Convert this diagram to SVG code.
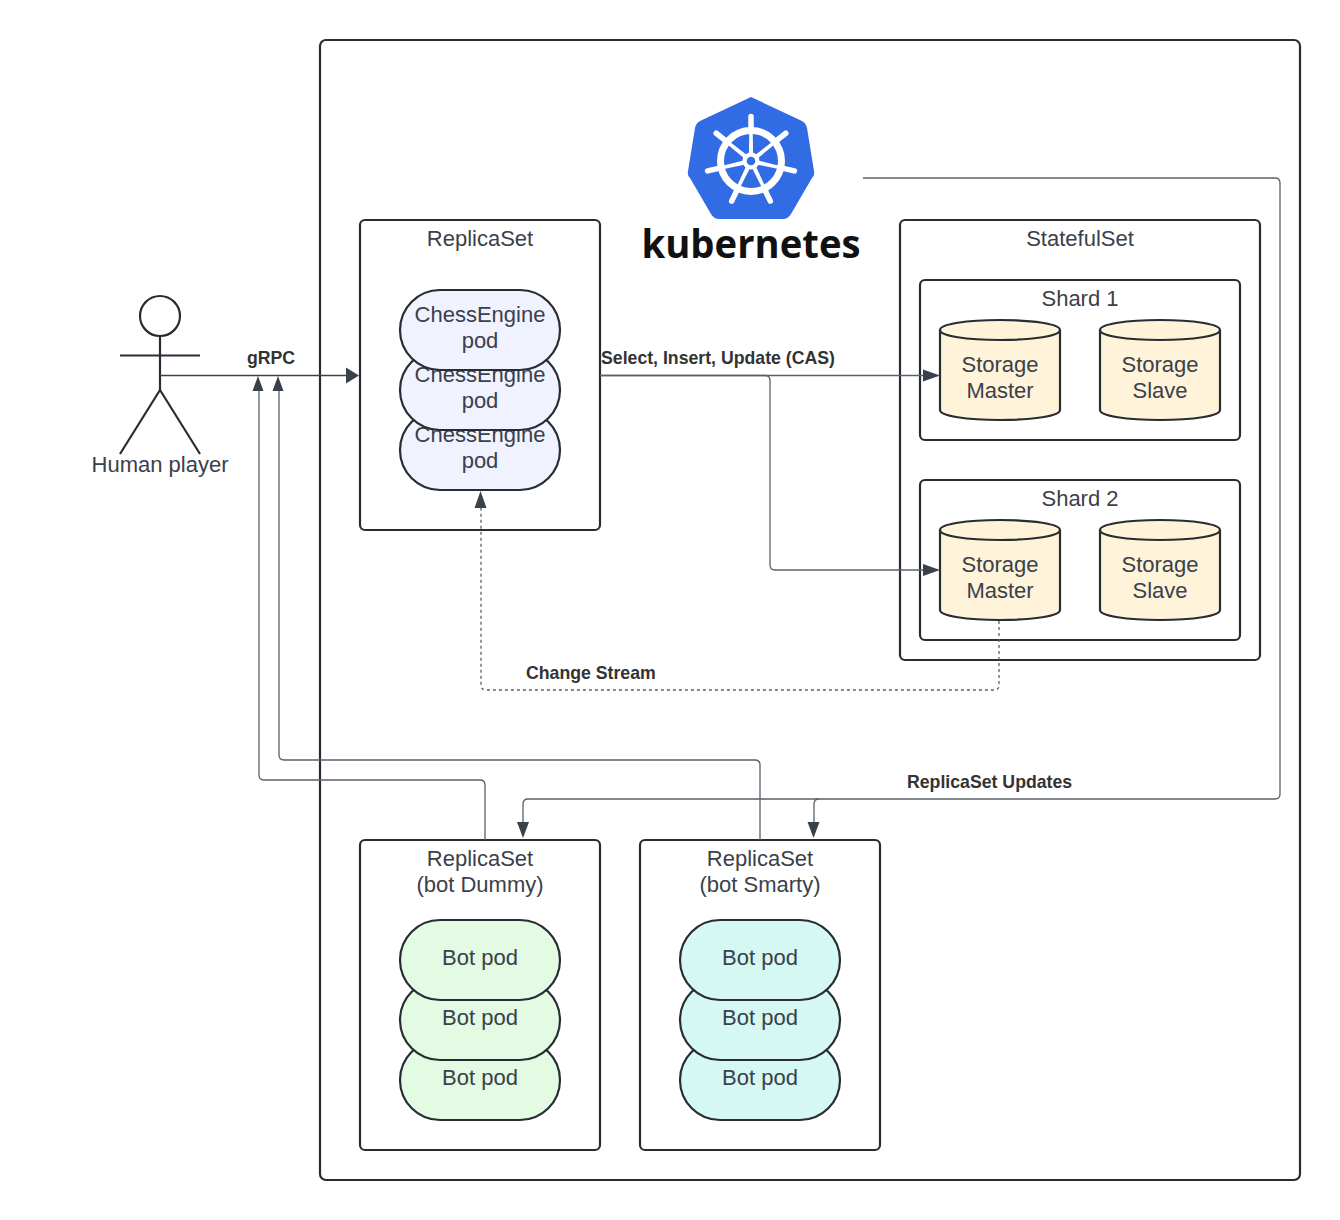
<svg xmlns="http://www.w3.org/2000/svg" width="1340" height="1220" viewBox="0 0 1340 1220">
<style>
text{font-family:"Liberation Sans",Arial,sans-serif;font-size:22px;fill:#3a414a;text-anchor:middle}
.lbl{font-size:17.7px;font-weight:bold;fill:#333333}
.st{text-anchor:start}
.box{fill:#fff;stroke:#282c33;stroke-width:2.2}
.pod{stroke:#282c33;stroke-width:2.2}
.ce{fill:#f0f2ff}.dm{fill:#e3fae3}.sm{fill:#d6f8f3}
.cyl{fill:#fff3d9;stroke:#282c33;stroke-width:2.2}
.act{fill:none;stroke:#282c33;stroke-width:2.2}
.c{fill:none;stroke:#5a616b;stroke-width:1.3}
.a{fill:#3a414a}
</style>
<defs>
<g id="cyl">
<path class="cyl" d="M0 10C0 4 27 0 60 0S120 4 120 10V90C120 96 93 100 60 100S0 96 0 90Z"/>
<path class="cyl" style="fill:none" d="M0 10C0 16 27 20 60 20S120 16 120 10"/>
</g>
<path id="spoke" d="M748.800 161L749.400 123H752.600L753.200 161Z" fill="#fff"/>
<path id="handle" d="M751 128V116.500" stroke="#fff" stroke-width="5.500" stroke-linecap="round" fill="none"/>
</defs>
<g id="cluster"><rect x="320" y="40" width="980" height="1140" rx="6" fill="#fff" stroke="#282c33" stroke-width="2.2"/></g>
<g id="logo">
<path d="M751 97L802 121Q806 123 807 128L814 171Q815 175 812 178L791 214Q788 219 783 219H719Q714 219 711 214L690 178Q687 175 688 171L695 128Q696 123 700 121Z" fill="#326ce5"/>
<circle cx="751" cy="161" r="30.500" stroke-width="7" stroke="#fff" fill="none"/>
<use href="#spoke"/>
<use href="#spoke" transform="rotate(51.43 751 161)"/>
<use href="#spoke" transform="rotate(102.86 751 161)"/>
<use href="#spoke" transform="rotate(154.29 751 161)"/>
<use href="#spoke" transform="rotate(205.71 751 161)"/>
<use href="#spoke" transform="rotate(257.14 751 161)"/>
<use href="#spoke" transform="rotate(308.57 751 161)"/>
<use href="#handle"/>
<use href="#handle" transform="rotate(51.43 751 161)"/>
<use href="#handle" transform="rotate(102.86 751 161)"/>
<use href="#handle" transform="rotate(154.29 751 161)"/>
<use href="#handle" transform="rotate(205.71 751 161)"/>
<use href="#handle" transform="rotate(257.14 751 161)"/>
<use href="#handle" transform="rotate(308.57 751 161)"/>
<circle cx="751" cy="161" r="8.500" fill="#fff"/>
<circle cx="751" cy="161" r="4.300" fill="#326ce5"/>
<text x="751" y="258" style="font-family:'Open Sans','DejaVu Sans',sans-serif;font-size:39px;font-weight:bold;fill:#111" textLength="219" lengthAdjust="spacingAndGlyphs">kubernetes</text>
</g>
<g id="human">
<circle class="act" cx="160" cy="316" r="20"/>
<path class="act" d="M160 336V390M120 355.500H200M120 454L160 390L200 454"/>
<text x="160" y="472">Human player</text>
</g>
<g id="replicaset-engine">
<rect class="box" x="360" y="220" width="240" height="310" rx="5"/>
<text x="480" y="246">ReplicaSet</text>
<rect class="pod ce" x="400" y="410" width="160" height="80" rx="40"/>
<text x="480" y="442">ChessEngine</text><text x="480" y="468">pod</text>
<rect class="pod ce" x="400" y="350" width="160" height="80" rx="40"/>
<text x="480" y="382">ChessEngine</text><text x="480" y="408">pod</text>
<rect class="pod ce" x="400" y="290" width="160" height="80" rx="40"/>
<text x="480" y="322">ChessEngine</text><text x="480" y="348">pod</text>
</g>
<g id="statefulset">
<rect class="box" x="900" y="220" width="360" height="440" rx="5"/>
<text x="1080" y="246">StatefulSet</text>
</g>
<g id="shard1">
<rect class="box" x="920" y="280" width="320" height="160" rx="5"/>
<text x="1080" y="306">Shard 1</text>
<use href="#cyl" x="940" y="320"/><text x="1000" y="372">Storage</text><text x="1000" y="398">Master</text>
<use href="#cyl" x="1100" y="320"/><text x="1160" y="372">Storage</text><text x="1160" y="398">Slave</text>
</g>
<g id="shard2">
<rect class="box" x="920" y="480" width="320" height="160" rx="5"/>
<text x="1080" y="506">Shard 2</text>
<use href="#cyl" x="940" y="520"/><text x="1000" y="572">Storage</text><text x="1000" y="598">Master</text>
<use href="#cyl" x="1100" y="520"/><text x="1160" y="572">Storage</text><text x="1160" y="598">Slave</text>
</g>
<g id="replicaset-dummy">
<rect class="box" x="360" y="840" width="240" height="310" rx="5"/>
<text x="480" y="866">ReplicaSet</text><text x="480" y="892">(bot Dummy)</text>
<rect class="pod dm" x="400" y="1040" width="160" height="80" rx="40"/><text x="480" y="1085">Bot pod</text>
<rect class="pod dm" x="400" y="980" width="160" height="80" rx="40"/><text x="480" y="1025">Bot pod</text>
<rect class="pod dm" x="400" y="920" width="160" height="80" rx="40"/><text x="480" y="965">Bot pod</text>
</g>
<g id="replicaset-smarty">
<rect class="box" x="640" y="840" width="240" height="310" rx="5"/>
<text x="760" y="866">ReplicaSet</text><text x="760" y="892">(bot Smarty)</text>
<rect class="pod sm" x="680" y="1040" width="160" height="80" rx="40"/><text x="760" y="1085">Bot pod</text>
<rect class="pod sm" x="680" y="980" width="160" height="80" rx="40"/><text x="760" y="1025">Bot pod</text>
<rect class="pod sm" x="680" y="920" width="160" height="80" rx="40"/><text x="760" y="965">Bot pod</text>
</g>
<g id="connectors">
<path class="c" style="stroke:#3a414a" d="M160 375.500H346"/>
<path class="a" d="M359 375.500L346 367.500V383.500Z"/>
<path class="c" d="M600 375.500H924"/>
<path class="a" d="M940 375.500L923 369.500V381.500Z"/>
<path class="c" d="M600 375.500H765Q770 375.500 770 380.500V565Q770 570 775 570H924"/>
<path class="a" d="M940 570L923 564V576Z"/>
<path class="c" stroke-dasharray="3 3" d="M999 621V685Q999 690 994 690H486Q481 690 481 685V506"/>
<path class="a" d="M480.500 491L474.500 508H486.500Z"/>
<path class="c" d="M863 178H1275Q1280 178 1280 183V794Q1280 799 1275 799H819Q814 799 814 804V824"/>
<path class="a" d="M813.500 838L807.500 822H819.500Z"/>
<path class="c" d="M819 799H528Q523 799 523 804V824"/>
<path class="a" d="M523 838L517 822H529Z"/>
<path class="c" d="M485 840V785Q485 780 480 780H264Q259 780 259 775V390"/>
<path class="a" d="M258 376L252.500 391H263.500Z"/>
<path class="c" d="M760 840V765Q760 760 755 760H284Q279 760 279 755V390"/>
<path class="a" d="M278 376L272.500 391H283.500Z"/>
</g>
<g id="labels">
<text class="lbl" x="271" y="364">gRPC</text>
<text class="lbl st" x="601" y="364">Select, Insert, Update (CAS)</text>
<text class="lbl st" x="526" y="679">Change Stream</text>
<text class="lbl st" x="907" y="788">ReplicaSet Updates</text>
</g>
</svg>
